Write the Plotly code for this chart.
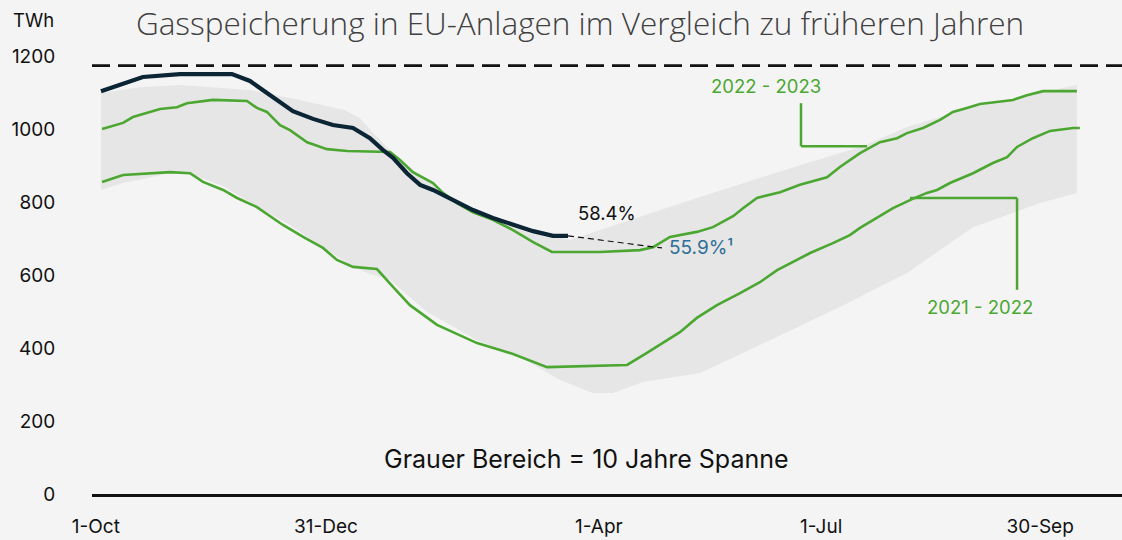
import plotly.graph_objects as go

# ---- data (day index from 1-Oct, TWh) ----
band_upper_days = [0, 14.5, 29.4, 55.5, 74.1, 90.9, 96.5, 102.1, 111.4, 128.9, 143.8, 163.6, 174.7,
                   185.9, 223.2, 260.4, 282.8, 300.3, 324.9, 363.6]
band_upper_vals = [1100, 1116, 1122, 1108, 1081, 1053, 1031, 985, 916, 820, 765, 719, 697,
                   724, 815, 902, 952, 1007, 1061, 1122]
band_lower_days = [0, 8.2, 25.7, 33.2, 45.5, 60.4, 70.4, 82.7, 92.8, 99.1, 107.7, 121.5, 140.1,
                   156.1, 171, 183.3, 190.8, 201.9, 223.2, 245.5, 275.3, 300.3, 324.9, 349.9, 363.6]
band_lower_vals = [834, 853, 880, 878, 845, 779, 738, 677, 628, 606, 587, 499, 422,
                   376, 313, 277, 277, 307, 332, 409, 513, 606, 732, 798, 826]

y2223_days = [0.4, 8.2, 11.9, 22, 28.3, 32, 41.7, 54.4, 58.1, 61.8, 66.7, 70.4, 76.8, 84.2, 91.7,
              107.7, 111.4, 116.2, 123.7, 127.4, 132.6, 138.6, 146, 153.5, 161, 168, 185.9, 200.8,
              205.7, 212, 222, 228, 235.5, 239.2, 244.4, 253, 260.4, 270.5, 275.3, 282.8, 290.2,
              296.6, 300.3, 306.3, 312.6, 317.4, 322.6, 327.5, 339.8, 345, 351, 363.6]
y2223_vals = [1001, 1018, 1034, 1056, 1061, 1072, 1081, 1078, 1059, 1048, 1012, 998, 965, 946, 941,
              938, 916, 883, 853, 826, 798, 773, 752, 724, 691, 664, 664, 669,
              677, 705, 719, 732, 762, 784, 812, 828, 848, 869, 897, 935, 965,
              976, 990, 1004, 1026, 1048, 1059, 1070, 1081, 1094, 1105, 1105]

y2122_days = [0.4, 8.2, 25.7, 33.2, 38, 45.5, 50.7, 58.1, 67.8, 75.3, 82.7, 87.9, 93.9, 102.8,
              108.8, 115.1, 125.2, 134.9, 140.1, 148.7, 153.5, 166.2, 196, 203.4, 210.9, 215.7,
              222, 229.5, 238.1, 245.5, 251.9, 264.2, 272.7, 279, 282.8, 289.1, 295.1, 302.2,
              307.7, 311.5, 316.3, 324.9, 332.3, 337.6, 341.3, 347.2, 353.6, 362.2, 364.7]
y2122_vals = [856, 875, 883, 880, 856, 834, 812, 787, 738, 705, 675, 642, 623, 617,
              568, 518, 464, 431, 414, 395, 384, 348, 354, 387, 422, 444,
              483, 518, 551, 581, 614, 661, 688, 710, 730, 757, 784, 809,
              826, 834, 853, 880, 908, 924, 952, 976, 996, 1004, 1004]

y2324_days = [0, 8.2, 15.6, 29.4, 48.8, 55.5, 61.8, 66.7, 71.5, 79, 86.4, 93.9, 100.2, 105,
              108.8, 114, 118.9, 123.7, 128.9, 133.8, 138.6, 146, 153.5, 161, 168.4, 174]
y2324_vals = [1105, 1127, 1144, 1152, 1152, 1133, 1100, 1072, 1050, 1029, 1012, 1004, 976, 944,
              922, 880, 848, 834, 815, 798, 779, 757, 738, 721, 708, 708]

proj_days = [174, 209]
proj_vals = [708, 675]

capacity = 1175
tick_pos = [-1.9, 83.8, 185.5, 268.3, 349.9]
tick_text = ["1-Oct", "31-Dec", "1-Apr", "1-Jul", "30-Sep"]
y_ticks = [0, 200, 400, 600, 800, 1000, 1200]

GREEN = "#4ba731"
DARK = "#0b2535"
FONT = "Inter"

fig = go.Figure()

fig.add_trace(go.Scatter(
    x=band_upper_days + band_lower_days[::-1],
    y=band_upper_vals + band_lower_vals[::-1],
    fill="toself", fillcolor="#e6e6e6", line=dict(width=0), mode="lines",
    hoverinfo="skip"))

fig.add_trace(go.Scatter(x=y2122_days, y=y2122_vals, mode="lines",
                         line=dict(color=GREEN, width=2.6)))
fig.add_trace(go.Scatter(x=y2223_days, y=y2223_vals, mode="lines",
                         line=dict(color=GREEN, width=2.6)))
fig.add_trace(go.Scatter(x=y2324_days, y=y2324_vals, mode="lines",
                         line=dict(color=DARK, width=4.2)))
fig.add_trace(go.Scatter(x=proj_days, y=proj_vals, mode="lines",
                         line=dict(color="#111111", width=1.2, dash="6px,4px")))

# capacity dashed line
fig.add_shape(type="line", xref="paper", x0=0, x1=1, yref="y", y0=capacity, y1=capacity,
              line=dict(color="#111111", width=2.6, dash="18px,8px"))

# connectors for labels
fig.add_shape(type="line", x0=260.8, x1=260.8, y0=1072, y1=954,
              line=dict(color=GREEN, width=2.5))
fig.add_shape(type="line", x0=260.8, x1=285.4, y0=954, y1=954,
              line=dict(color=GREEN, width=2.5))
fig.add_shape(type="line", x0=301.4, x1=341.3, y0=812, y1=812,
              line=dict(color=GREEN, width=2.5))
fig.add_shape(type="line", x0=341.3, x1=341.3, y0=812, y1=560,
              line=dict(color=GREEN, width=2.5))

ann = [
    dict(x=247.8, y=1119, text="2022 - 2023", font=dict(color=GREEN, size=18.5, family=FONT)),
    dict(x=327.5, y=513, text="2021 - 2022", font=dict(color=GREEN, size=18.5, family=FONT)),
    dict(x=188.5, y=771, text="58.4%", font=dict(color="#111111", size=18.5, family=FONT)),
    dict(x=223.5, y=676, text="55.9%¹", font=dict(color="#2d6f97", size=19, family=FONT)),
    dict(x=181, y=96, text="Grauer Bereich = 10 Jahre Spanne",
         font=dict(color="#111111", size=25, family=FONT)),
]
for a in ann:
    fig.add_annotation(showarrow=False, xanchor="center", yanchor="middle", **a)

fig.add_annotation(text="TWh", xref="paper", yref="paper", x=-0.057, y=1.006,
                   xanchor="center", yanchor="middle", showarrow=False,
                   font=dict(color="#111111", size=18.5, family=FONT))

fig.update_layout(
    width=1122, height=540,
    margin=dict(l=92, r=0, t=23, b=46, autoexpand=False),
    paper_bgcolor="#f4f4f4", plot_bgcolor="#f4f4f4",
    showlegend=False,
    title=dict(text="Gasspeicherung in EU-Anlagen im Vergleich zu früheren Jahren",
               x=0.517, xanchor="center", y=0.955, yanchor="middle",
               font=dict(family="Open Sans", size=31.5, color="#404040", weight=300)),
    xaxis=dict(range=[-3.35, 380.4], tickvals=tick_pos, ticktext=tick_text,
               showgrid=False, zeroline=False, showline=True, linecolor="#111111",
               linewidth=2.5, ticks="outside", ticklen=13, tickcolor="rgba(0,0,0,0)",
               automargin=False,
               tickfont=dict(family=FONT, size=19, color="#111111")),
    yaxis=dict(range=[0, 1292], tickvals=y_ticks, showgrid=False, zeroline=False,
               showline=False, ticks="outside", ticklen=32, tickcolor="rgba(0,0,0,0)",
               automargin=False,
               tickfont=dict(family=FONT, size=19, color="#111111")),
)

fig.write_html("out.html")
